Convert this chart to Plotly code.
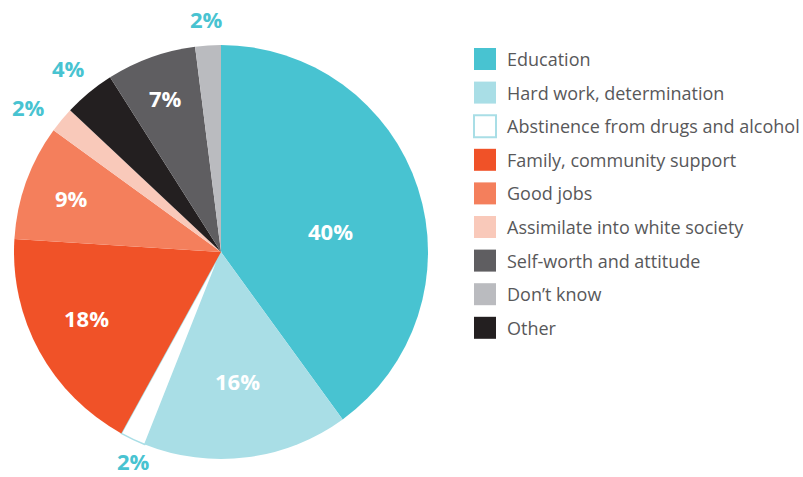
import math
import plotly.graph_objects as go

# Pie slices in clockwise order from 12 o'clock
slice_labels = ["Education", "Hard work, determination", "Abstinence from drugs and alcohol",
                "Family, community support", "Good jobs", "Assimilate into white society",
                "Other", "Self-worth and attitude", "Don\u2019t know"]
slice_values = [40, 16, 2, 18, 9, 2, 4, 7, 2]

# Legend order
legend_labels = ["Education", "Hard work, determination", "Abstinence from drugs and alcohol",
                 "Family, community support", "Good jobs", "Assimilate into white society",
                 "Self-worth and attitude", "Don\u2019t know", "Other"]

colors = {
    "Education": "#48C3D1",
    "Hard work, determination": "#A9DEE6",
    "Abstinence from drugs and alcohol": "#FFFFFF",
    "Family, community support": "#F05228",
    "Good jobs": "#F47F5C",
    "Assimilate into white society": "#F9C9BA",
    "Other": "#231F20",
    "Self-worth and attitude": "#5F5E61",
    "Don\u2019t know": "#BABBBF",
}
TEAL = "#48C3D1"
LIGHT = "#A9DEE6"

# label placement style: radial fraction of radius, and angular nudge (deg)
label_rfrac = [0.54, 0.63, 1.095, 0.725, 0.77, 1.165, 1.155, 0.79, 1.13]
label_nudge = [7, 0, -2.5, 2.7, 0, -2.6, 0, 0, 0]

W, H = 803, 477
cx, cy, R = 221, 252, 207

fig = go.Figure()
fig.add_trace(go.Pie(
    labels=slice_labels, values=slice_values, sort=False, direction="clockwise",
    rotation=0,
    marker=dict(colors=[colors[l] for l in slice_labels],
                line=dict(color=[LIGHT if l.startswith("Abstinence") else "rgba(0,0,0,0)" for l in slice_labels],
                          width=[1.5 if l.startswith("Abstinence") else 0 for l in slice_labels])),
    textinfo="none",
    showlegend=False, hoverinfo="label+value",
    domain=dict(x=[(cx - R) / W, (cx + R) / W], y=[1 - (cy + R) / H, 1 - (cy - R) / H]),
))

annotations, shapes = [], []
total = sum(slice_values)
cum = 0
for v, rf, nd in zip(slice_values, label_rfrac, label_nudge):
    mid = (cum + v / 2) / total * 360 + nd
    cum += v
    r = rf * R
    px = cx + r * math.sin(math.radians(mid))
    py = cy - r * math.cos(math.radians(mid))
    outside = rf > 1
    annotations.append(dict(text=f"{v}%", xref="paper", yref="paper", x=px / W, y=1 - py / H,
                            xanchor="center", yanchor="middle", showarrow=False,
                            font=dict(family="Open Sans", size=22, weight="bold",
                                      color=TEAL if outside else "white")))

y0, dy, sq = 59, 33.6, 22
for i, lab in enumerate(legend_labels):
    yc = y0 + i * dy
    line = dict(width=0)
    if lab.startswith("Abstinence"):
        line = dict(color=LIGHT, width=2)
    shapes.append(dict(type="rect", xref="paper", yref="paper",
                       x0=474 / W, x1=(474 + sq) / W, y0=1 - (yc + sq / 2) / H, y1=1 - (yc - sq / 2) / H,
                       fillcolor=colors[lab], line=line))
    annotations.append(dict(text=lab, xref="paper", yref="paper", x=505 / W, y=1 - yc / H,
                            xanchor="left", yanchor="middle", showarrow=False,
                            font=dict(family="Open Sans", size=18, color="#58585A")))

fig.update_layout(width=W, height=H, margin=dict(l=0, r=0, t=0, b=0),
                  paper_bgcolor="white", plot_bgcolor="white",
                  shapes=shapes, annotations=annotations)
fig.write_html("out.html", config={"displayModeBar": False},
               post_script="document.body.style.margin='0';")
